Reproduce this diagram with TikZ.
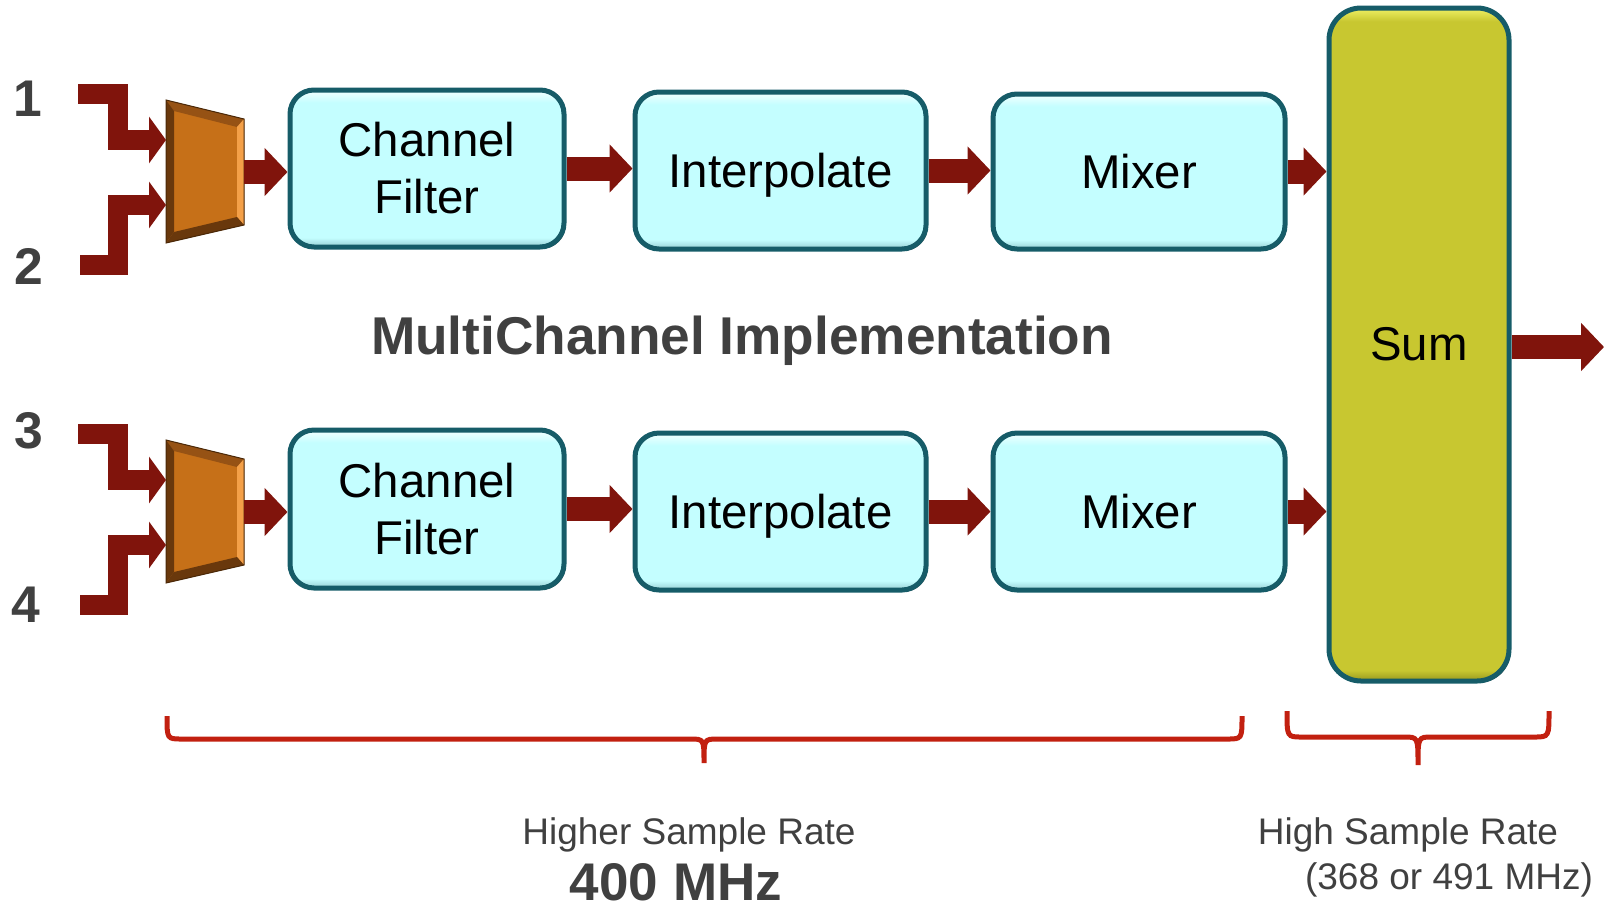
\documentclass[tikz,border=0pt]{standalone}
\usepackage{fontspec}
\setmainfont{Liberation Sans}
\usetikzlibrary{arrows.meta,shadows}

\definecolor{flow}{RGB}{128,20,12}
\definecolor{boxfill}{RGB}{196,254,255}
\definecolor{boxdark}{RGB}{150,205,210}
\definecolor{boxlight}{RGB}{232,255,255}
\definecolor{boxedge}{RGB}{22,92,104}
\definecolor{sumfill}{RGB}{200,199,48}
\definecolor{sumdark}{RGB}{150,150,30}
\definecolor{sumlight}{RGB}{232,232,90}
\definecolor{bracecol}{RGB}{194,32,16}
\definecolor{ink}{RGB}{64,64,64}
\definecolor{muxfill}{RGB}{198,112,24}
\definecolor{muxtop}{RGB}{150,82,20}
\definecolor{muxdark}{RGB}{105,56,12}
\definecolor{muxlight}{RGB}{244,160,72}
\definecolor{muxline}{RGB}{74,40,8}

% bevelled fills: a dark band at the bottom edge, a light band at the top edge
\pgfdeclareverticalshading{boxbevel}{100bp}{color(0bp)=(boxdark); color(25bp)=(boxdark);
  color(28bp)=(boxfill); color(71bp)=(boxfill); color(74bp)=(boxlight); color(100bp)=(boxlight)}
\pgfdeclareverticalshading{sumbevel}{100bp}{color(0bp)=(sumdark); color(25bp)=(sumdark);
  color(25.8bp)=(sumfill); color(74bp)=(sumfill); color(74.8bp)=(sumlight); color(100bp)=(sumlight)}

\begin{document}
\begin{tikzpicture}[x=0.5pt,y=-0.5pt,
  procbox/.style={draw=boxedge, line width=2.5pt, shading=boxbevel,
    rounded corners=12pt, inner sep=0pt, align=center,
    font=\fontsize{23.7}{28.5}\selectfont,
    general shadow={fill=black!70, shadow xshift=0.9pt, shadow yshift=-0.9pt}},
  sumbox/.style={procbox, shading=sumbevel, rounded corners=16pt},
  flowarrow/.style={draw=flow, line width=12pt,
    -{Triangle[length=11.5pt,width=23.5pt]}},
  inarrow/.style={draw=flow, line width=10pt, line join=miter,
    -{Triangle[length=8.5pt,width=23pt]}},
  numlabel/.style={text=ink, font=\bfseries\fontsize{25.8}{30}\selectfont},
  ratelabel/.style={text=ink, inner sep=0pt, text depth=0pt, font=\fontsize{18.5}{22}\selectfont},
  bracepath/.style={draw=bracecol, line width=2.5pt}
]
\useasboundingbox (0,0) rectangle (1605,906);

% processing blocks
\node[procbox, minimum width=137pt, minimum height=78.5pt] (cf1) at (427,168.5) {Channel\\Filter};
\node[procbox, minimum width=145.5pt, minimum height=78.5pt, text depth=0pt] (int1) at (780.5,170.5) {Interpolate};
\node[procbox, minimum width=146pt, minimum height=77.5pt] (mix1) at (1139,171.5) {Mixer};
\node[procbox, minimum width=137pt, minimum height=79pt] (cf2) at (427,509) {Channel\\Filter};
\node[procbox, minimum width=145.5pt, minimum height=78.5pt, text depth=0pt] (int2) at (780.5,511.5) {Interpolate};
\node[procbox, minimum width=146pt, minimum height=78.5pt] (mix2) at (1139,511.5) {Mixer};
\node[sumbox, minimum width=90pt, minimum height=336.5pt] (sum) at (1419,344.5) {Sum};

% input multiplexers (bevelled trapezoids) with their inputs
\foreach \dy/\ia/\ib/\k in {0/1/2/1, 340/3/4/2} {
  \begin{scope}[shift={(0,\dy)}]
    \fill[muxfill] (166,100) -- (244,119) -- (244,225) -- (166,243) -- cycle;
    \fill[muxtop] (166,100) -- (244,119) -- (237,127) -- (174,111) -- cycle;
    \fill[muxdark] (166,100) -- (174,111) -- (174,232) -- (166,243) -- cycle;
    \fill[muxlight] (244,119) -- (244,225) -- (237,217) -- (237,127) -- cycle;
    \fill[muxdark] (166,243) -- (174,232) -- (237,217) -- (244,225) -- cycle;
    \draw[muxline, line width=0.5pt] (166,100) -- (244,119) -- (244,225) -- (166,243) -- cycle;
    \coordinate (mux\k out) at (244,172);
    \coordinate (src\ia) at (78,94);
    \coordinate (dst\ia) at (166,140);
    \coordinate (src\ib) at (80,265);
    \coordinate (dst\ib) at (166,205);
  \end{scope}
  \draw[inarrow] (src\ia) -- ++(40,0) |- (dst\ia);
  \draw[inarrow] (src\ib) -- ++(38,0) |- (dst\ib);
}

% signal flow
\draw[flowarrow] (mux1out) -- (mux1out -| cf1.west);
\draw[flowarrow] (cf1.east) -- (cf1.east -| int1.west);
\draw[flowarrow] (int1.east) -- (int1.east -| mix1.west);
\draw[flowarrow] (mix1.east) -- (mix1.east -| sum.west);
\draw[flowarrow] (mux2out) -- (mux2out -| cf2.west);
\draw[flowarrow] (cf2.east) -- (cf2.east -| int2.west);
\draw[flowarrow] (int2.east) -- (int2.east -| mix2.west);
\draw[flowarrow] (mix2.east) -- (mix2.east -| sum.west);
\coordinate (out) at (1604,347);
\draw[flowarrow] (sum.east |- out) -- (out);

% channel numbers
\node[numlabel] (n1) at (28,99) {1};
\node[numlabel] (n2) at (29,266) {2};
\node[numlabel] (n3) at (29,431) {3};
\node[numlabel] (n4) at (26,605) {4};

% title
\node[text=ink, text depth=0pt, font=\bfseries\fontsize{26.6}{32}\selectfont] (title) at (742,335) {MultiChannel Implementation};

% rate braces
\draw[bracepath] (167,716) .. controls (167,739) .. (182,739) -- (690,739)
  .. controls (704,739) .. (704,763) .. controls (704,739) .. (718,739)
  -- (1227,739) .. controls (1242,739) .. (1242,716);
\draw[bracepath] (1287,711) .. controls (1287,737) .. (1302,737) -- (1404,737)
  .. controls (1418,737) .. (1418,765) .. controls (1418,737) .. (1432,737)
  -- (1534,737) .. controls (1549,737) .. (1549,711);

% rate labels
\node[ratelabel] (lowrate) at (689,831) {Higher Sample Rate};
\node[text=ink, inner sep=0pt, text depth=0pt, font=\bfseries\fontsize{26.5}{30}\selectfont] (lowfreq) at (676,882) {400 MHz};
\node[ratelabel] (highrate) at (1408,831) {High Sample Rate};
\node[ratelabel] (highfreq) at (1449,876) {(368 or 491 MHz)};
\end{tikzpicture}
\end{document}
